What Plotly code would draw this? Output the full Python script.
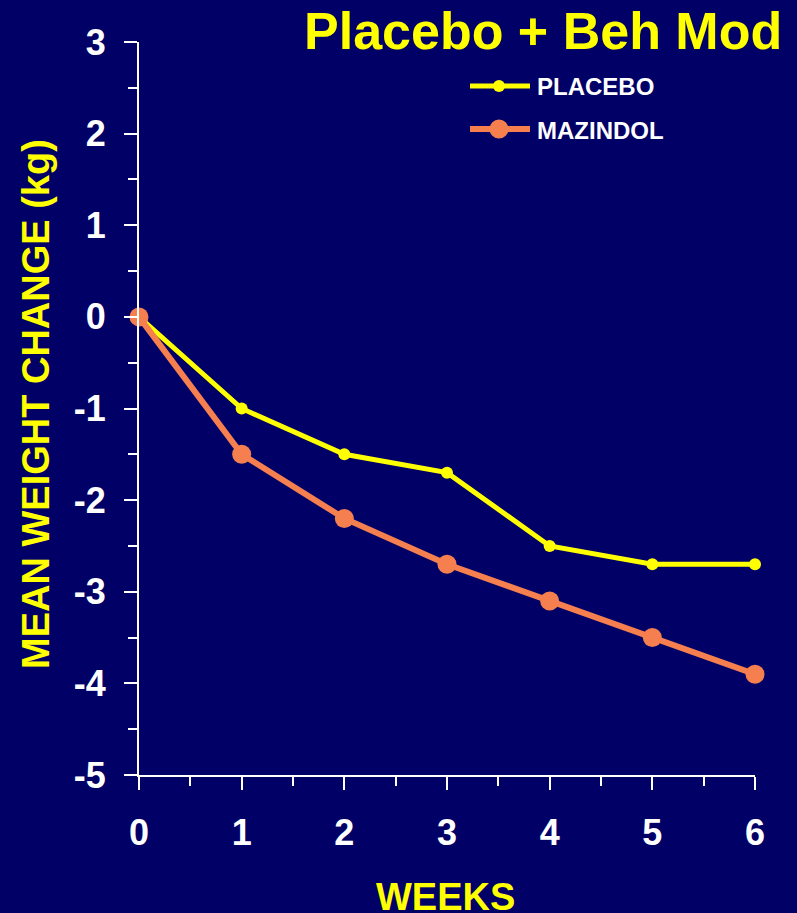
import plotly.graph_objects as go

weeks = [0, 1, 2, 3, 4, 5, 6]
placebo = [0, -1.0, -1.5, -1.7, -2.5, -2.7, -2.7]
mazindol = [0, -1.5, -2.2, -2.7, -3.1, -3.5, -3.9]
series_names = ["PLACEBO", "MAZINDOL"]
y_tick_vals = [3, 2, 1, 0, -1, -2, -3, -4, -5]
y_tick_text = ["3", "2", "1", "0", "-1", "-2", "-3", "-4", "-5"]
x_tick_vals = [0, 1, 2, 3, 4, 5, 6]
x_tick_text = ["0", "1", "2", "3", "4", "5", "6"]
title_text = "Placebo + Beh Mod"
x_title = "WEEKS"
y_title = "MEAN WEIGHT CHANGE (kg)"

BG = "#000066"
YEL = "#FFFF00"
ORG = "#F57F4F"
FONT = "Arial, Liberation Sans, sans-serif"

W, H = 797, 913
L, R, T, B = 139, 42, 42, 138
PW, PH = W - L - R, H - T - B


def px(xp):
    return (xp - L) / PW


def py(yp):
    return (H - B - yp) / PH


fig = go.Figure()
fig.add_trace(go.Scatter(x=weeks, y=placebo, mode="lines+markers", name=series_names[0],
                         line=dict(color=YEL, width=5), marker=dict(color=YEL, size=12),
                         cliponaxis=False, showlegend=False))
fig.add_trace(go.Scatter(x=weeks, y=mazindol, mode="lines+markers", name=series_names[1],
                         line=dict(color=ORG, width=6), marker=dict(color=ORG, size=19),
                         cliponaxis=False, showlegend=False))

tickfont = dict(family=FONT, size=36, color="white", weight="bold")
fig.update_xaxes(range=[0, 6], tickmode="array", tickvals=x_tick_vals, ticktext=x_tick_text,
                 showgrid=False, zeroline=False,
                 showline=True, linecolor="white", linewidth=2,
                 ticks="outside", ticklen=13, tickwidth=2, tickcolor="white",
                 tickfont=tickfont, ticklabelstandoff=12,
                 minor=dict(dtick=0.5, tick0=0, ticks="outside", ticklen=9, tickwidth=2, tickcolor="white"))
fig.update_yaxes(range=[-5, 3], tickmode="array", tickvals=y_tick_vals, ticktext=y_tick_text,
                 showgrid=False, zeroline=False,
                 showline=True, linecolor="white", linewidth=2,
                 ticks="outside", ticklen=13, tickwidth=2, tickcolor="white",
                 tickfont=tickfont, ticklabelstandoff=11,
                 minor=dict(dtick=0.5, tick0=0, ticks="outside", ticklen=9, tickwidth=2, tickcolor="white"))

annotations = [
    dict(text=title_text, xref="paper", yref="paper", x=px(784), y=py(31), xanchor="right",
         yanchor="middle", showarrow=False,
         font=dict(family=FONT, size=52, color=YEL, weight="bold")),
    dict(text=x_title, xref="paper", yref="paper", x=px(445), y=py(897), xanchor="center",
         yanchor="middle", showarrow=False,
         font=dict(family=FONT, size=38, color=YEL, weight="bold")),
    dict(text=y_title, xref="paper", yref="paper", x=px(36), y=py(404), xanchor="center",
         yanchor="middle", textangle=-90, showarrow=False,
         font=dict(family=FONT, size=38, color=YEL, weight="bold")),
]

shapes = []
legend_rows = [(series_names[0], YEL, 5, 6, 86), (series_names[1], ORG, 6, 9.5, 129)]
for name, col, lw, r, yy in legend_rows:
    shapes.append(dict(type="line", xref="paper", yref="paper", x0=px(470), x1=px(530),
                       y0=py(yy), y1=py(yy), line=dict(color=col, width=lw)))
    shapes.append(dict(type="circle", xref="paper", yref="paper", x0=px(499 - r), x1=px(499 + r),
                       y0=py(yy + r), y1=py(yy - r), fillcolor=col, line=dict(color=col, width=0)))
    annotations.append(dict(text=name, xref="paper", yref="paper", x=px(535), y=py(yy + 1),
                            xanchor="left", yanchor="middle", showarrow=False,
                            font=dict(family=FONT, size=24, color="white", weight="bold")))

fig.update_layout(width=W, height=H, margin=dict(l=L, r=R, t=T, b=B),
                  paper_bgcolor=BG, plot_bgcolor=BG, showlegend=False,
                  annotations=annotations, shapes=shapes)

fig.write_html("out.html", config={"displayModeBar": False},
               post_script="document.body.style.margin='0';document.body.style.overflow='hidden';"
                           "document.body.style.background='" + BG + "';")
